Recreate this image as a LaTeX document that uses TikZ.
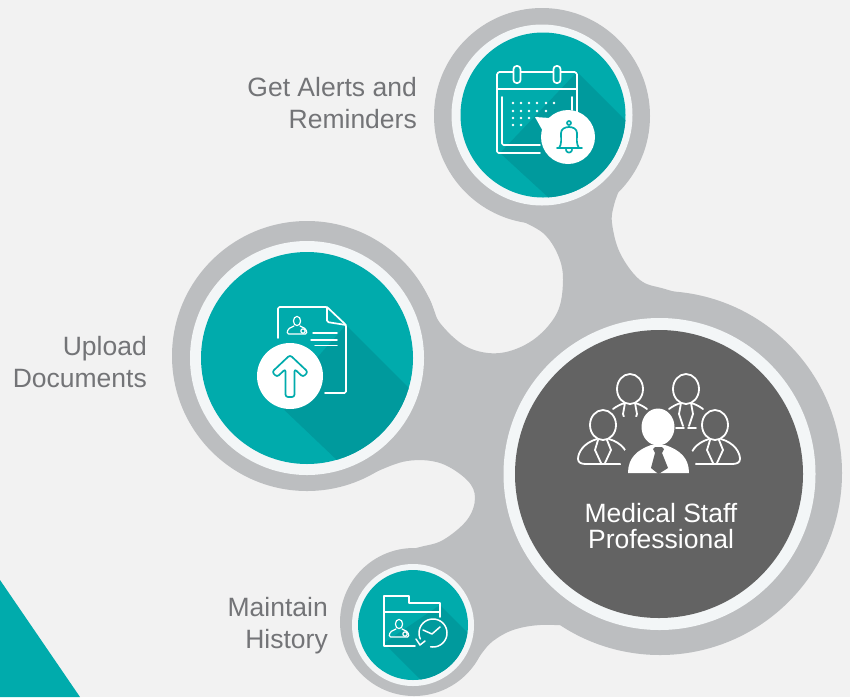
\documentclass[tikz,border=0pt]{standalone}
\usepackage{fontspec}
\setmainfont{Liberation Sans}
\definecolor{bgc}{HTML}{F2F2F2}
\definecolor{blobc}{HTML}{BCBEC0}
\definecolor{ringc}{HTML}{F3F6F7}
\definecolor{tealc}{HTML}{00ABAC}
\definecolor{shadec}{HTML}{009A9D}
\definecolor{darkc}{HTML}{636363}
\definecolor{labelc}{HTML}{737477}
\tikzset{
  x=1pt,y=-1pt,
  disc/.style={circle,inner sep=0pt,minimum size=#1},
  outerdisc/.style={disc=#1,fill=blobc},
  ringdisc/.style={disc=#1,fill=ringc},
  tealdisc/.style={disc=#1,fill=tealc},
  darkdisc/.style={disc=#1,fill=darkc},
  bubble/.style={disc=#1,fill=white},
  label/.style={inner sep=0pt,text=labelc,font=\fontsize{26.5}{32}\selectfont},
  iconline/.style={draw=white,line width=1.7pt,line cap=round,line join=round,rounded corners=1.5pt},
  bubbleline/.style={draw=tealc,line width=1.7pt,line join=round,line cap=round},
  thinline/.style={draw=white,line width=1.2pt,line join=round,line cap=round},
  teamline/.style={draw=white,line width=1.8pt,line join=round,line cap=round},
  frontfig/.pic={
    \draw[teamline] (0,0) ellipse (13pt and 15pt);
    \draw[teamline] (-6,14) .. controls (-20,18) and (-25,28) .. (-25,34) .. controls (-25,38) and (-21,39) .. (-17,39) -- (17,39) .. controls (21,39) and (25,38) .. (25,34) .. controls (25,28) and (20,18) .. (6,14);
    \draw[teamline] (-5,15) -- (-8,25) -- (-2,38);
    \draw[teamline] (4,15) -- (8,25) -- (2,38);
  },
  backfig/.pic={
    \draw[teamline] (0,0) ellipse (13pt and 15pt);
    \draw[teamline] (-17,20) .. controls (-13,17) and (-9,15) .. (-5,14) -- (-7,25) -- (-3,37);
    \draw[teamline] (17,20) .. controls (13,17) and (9,15) .. (5,14) -- (7,25) -- (3,37);
    \draw[teamline] (-10,39) -- (-2,39) (2,39) -- (10,39);
  },
  persona/.pic={
    \draw[thinline,draw=#1] (0,-3) ellipse (3.6pt and 4.6pt);
    \draw[thinline,draw=#1,rounded corners=1.5pt] (-3,2) -- (-9,5) -- (-10,10) -- (10,10) -- (9,5) -- (3,2);
    \draw[thinline,draw=#1] (6,7) circle (2.2pt);
  },
}
\begin{document}
\begin{tikzpicture}
\useasboundingbox (0,0) rectangle (850,697);
\fill[bgc] (0,0) rectangle (850,697);
\fill[tealc] (0,580) -- (80,697) -- (0,697) -- cycle;

% grey blob
\node[outerdisc=216pt] (topo) at (542,116) {};
\node[outerdisc=270pt] (lefto) at (307,356) {};
\node[outerdisc=148pt] (smallo) at (414,622) {};
\node[outerdisc=364pt] (bigo) at (660,473) {};
\fill[blobc]
  (500,200) -- plot[smooth,tension=.6] coordinates {(517,219) (543,233) (558,255) (563,280) (557,313) (533,340) (500,353) (467,347) (440,323) (430,300) (420,285)}
  -- (380,380) -- (335,480)
  -- plot[smooth,tension=.6] coordinates {(345,485) (373,473) (407,461) (440,463) (467,480) (475,498) (467,520) (443,540) (420,547) (395,553)}
  -- (420,630) -- (465,665)
  -- plot[smooth,tension=.6] coordinates {(474,665) (482,653) (493,641) (513,630) (540,625) (575,626)}
  -- (700,600)
  -- plot[smooth,tension=.6] coordinates {(705,300) (665,289) (640,280) (620,253) (612,223) (614,205) (620,188)}
  -- (600,170) -- cycle;

% rings and discs
\node[ringdisc=181pt] (topr) at (542,115) {};
\node[tealdisc=165pt] (topd) at (543,115) {};
\node[ringdisc=234pt] (leftr) at (307,358) {};
\node[tealdisc=212pt] (leftd) at (307,358) {};
\node[ringdisc=122pt] (smallr) at (413,625) {};
\node[tealdisc=110pt] (smalld) at (413,625) {};
\node[ringdisc=312pt] (bigr) at (659.500,474) {};
\node[darkdisc=288pt] (bigd) at (659,474) {};

% long shadows
\begin{scope}
  \clip (543,115) circle (82.5pt);
  \fill[shadec] (577,72) -- (660,155) -- (660,300) -- (500,153) -- cycle;
\end{scope}
\begin{scope}
  \clip (307,358) circle (106pt);
  \fill[shadec] (346,325) -- (460,439) -- (400,520) -- (277,403) -- cycle;
\end{scope}
\begin{scope}
  \clip (413,625) circle (55pt);
  \fill[shadec] (440,605) -- (500,665) -- (445,704) -- (384,643) -- cycle;
\end{scope}

% calendar icon
\draw[iconline] (497,89) -- (497,153) -- (540,153);
\draw[iconline] (502,97) -- (502,145) -- (540,145);
\draw[iconline] (497,89) -- (497,76) .. controls (497,73) and (499,72) .. (501,72) -- (513,72);
\draw[iconline] (521,72) -- (553,72);
\draw[iconline] (561,72) -- (573,72) .. controls (576,72) and (577,74) .. (577,76) -- (577,112);
\draw[iconline] (497,89) -- (577,89);
\draw[iconline] (572,97) -- (572,110);
\draw[iconline,rounded corners=3pt] (513.5,66) rectangle (520.5,83);
\draw[iconline,rounded corners=3pt] (553.5,66) rectangle (560.5,83);
\foreach \px/\py in {513/103,521/103,529/103,537/103,546/103,554/103,513/111,521/111,529/111,537/111,546/111,513/118,521/118,529/118,537/118,513/125,521/125}
  \fill[white] (\px,\py) circle (1.3pt);
\node[bubble=54pt] (bell) at (568,137) {};
\coordinate (belltail) at (535,117);
\fill[white] (belltail) -- (550,118) -- (545,135) -- cycle;
\draw[bubbleline] (569,123) circle (2pt);
\draw[bubbleline] (557,148) -- (582,148);
\draw[bubbleline,rounded corners=1pt] (559,148) .. controls (562,144) and (561,138) .. (561,134) .. controls (561,125) and (577,125) .. (577,134) .. controls (577,138) and (576,144) .. (579,148);
\draw[bubbleline] plot[smooth,domain=0:180,samples=9] ({569+3*cos(\x)},{149.500+3*sin(\x)});

% document icon
\draw[iconline] (278,338) -- (278,307) -- (327,307) -- (346,325) -- (346,393) -- (325,393);
\draw[iconline] (327,307) -- (327,322) -- (346,325);
\draw[iconline,line width=1.5pt] (313,333) -- (337,333) (311,340) -- (337,340) (315,345.500) -- (337,345.500);
\pic at (297,324) {persona=white};
\node[bubble=66pt] (upbub) at (290,376) {};
\draw[bubbleline,rounded corners=2.5pt] (290,355) -- (308,372) -- (303,377) -- (294.500,369) -- (294.500,397) -- (285.500,397) -- (285.500,369) -- (277,377) -- (272,372) -- cycle;

% folder icon
\draw[thinline,line width=1.5pt] (415,646) -- (384,646) -- (384,596) -- (409,596) -- (409,603) -- (440,603) -- (440,617);
\draw[thinline,line width=1.5pt] (384,612) -- (440,612);
\pic at (399,627) {persona=white};
\draw[thinline,line width=1.5pt] plot[smooth,domain=-205:100,samples=40] ({433+14*cos(\x)},{633+14*sin(\x)});
\draw[thinline,line width=1.5pt] (423,630) -- (432,634) -- (440,627);
\draw[thinline,line width=1.5pt] (416,639) -- (420,645) -- (425,641);

% team icon
\pic at (630,389) {backfig};
\pic at (686,389) {backfig};
\fill[darkc] (630,440) ellipse (24pt and 24pt);
\pic at (603,425) {frontfig};
\pic at (715,425) {frontfig};
\fill[darkc] (658,460) ellipse (38pt and 20pt);
\fill[white] (658,427) ellipse (16.500pt and 18.500pt);
\fill[white] (628,473) .. controls (628,458) and (637,450) .. (651,445) -- (665,445) .. controls (680,450) and (689,458) .. (689,473) -- cycle;
\fill[darkc] (655,447) -- (662,447) -- (664,449) -- (662,453) -- (668,468) -- (658.500,474) -- (651,468) -- (655,453) -- (653,449) -- cycle;

% labels
\node[label,anchor=east,align=right] (alerts) at (417,103.500) {Get Alerts and\\Reminders};
\node[label,anchor=east,align=right] (upload) at (147,362) {Upload\\Documents};
\node[label,anchor=east,align=right] (history) at (328,626) {Maintain\\History};
\node[label,text=white,align=center,font=\fontsize{26.5}{26}\selectfont] (staff) at (661,526) {Medical Staff\\Professional};
\end{tikzpicture}
\end{document}
